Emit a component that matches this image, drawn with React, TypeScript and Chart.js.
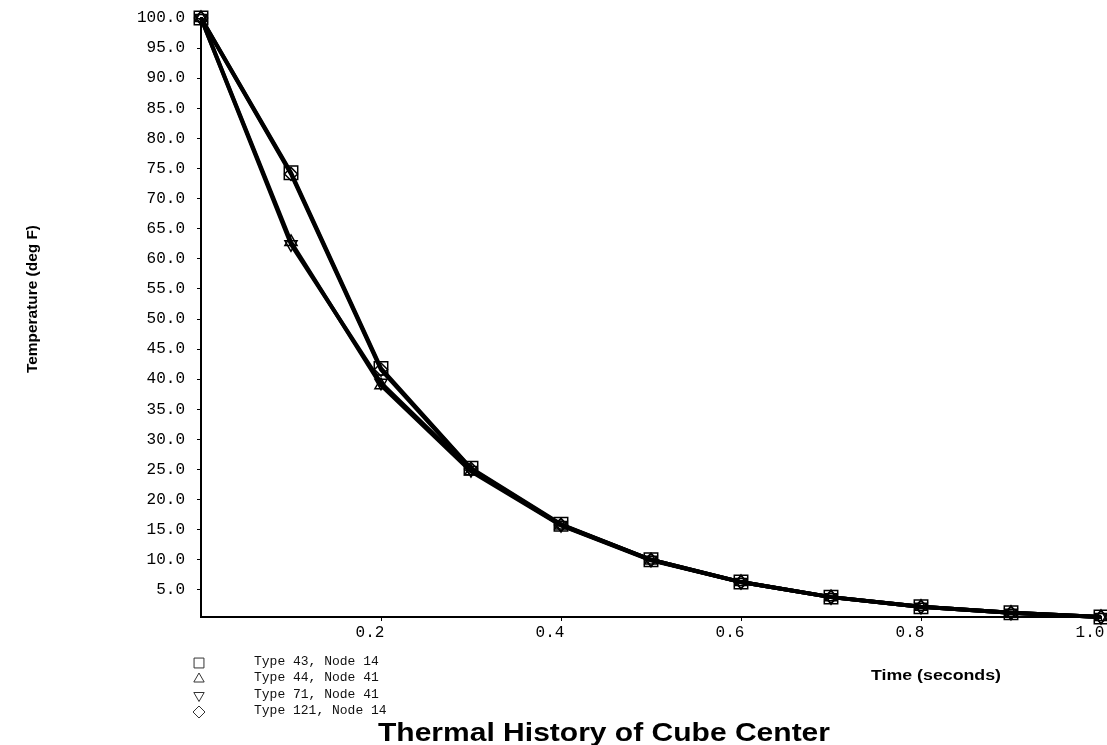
import React, { useEffect, useRef } from 'react';
import { Chart, registerables } from 'chart.js';
import { drawPoint } from 'chart.js/helpers';

Chart.register(...registerables);

// Sample times (s) and centre temperatures (deg F) for each element formulation
const timeSeconds = [0, 0.1, 0.2, 0.3, 0.4, 0.5, 0.6, 0.7, 0.8, 0.9, 1.0];
const type43Node14 = [100, 74.3, 41.8, 25.2, 15.9, 10.0, 6.3, 3.8, 2.2, 1.2, 0.5];
const type44Node41 = [100, 62.8, 39.0, 24.7, 15.7, 9.9, 6.3, 3.8, 2.2, 1.2, 0.5];
const type71Node41 = [100, 62.4, 39.4, 24.9, 15.8, 10.0, 6.3, 3.8, 2.2, 1.2, 0.5];
const type121Node14 = [100, 74.1, 41.6, 25.1, 15.8, 10.0, 6.3, 3.8, 2.2, 1.2, 0.5];

const seriesNames = ['Type 43, Node 14', 'Type 44, Node 41', 'Type 71, Node 41', 'Type 121, Node 14'];

const xTickValues = [0.2, 0.4, 0.6, 0.8, 1.0];
const yTickValues = [5, 10, 15, 20, 25, 30, 35, 40, 45, 50, 55, 60, 65, 70, 75, 80, 85, 90, 95, 100];

const chartTitle = 'Thermal History of Cube Center';
const xAxisTitle = 'Time (seconds)';
const yAxisTitle = 'Temperature (deg F)';

const MONO = '"Liberation Mono", "Courier New", monospace';
const SANS = '"Liberation Sans", Arial, Helvetica, sans-serif';

// Draw text horizontally stretched to a given width (the plot's labels use a wide face)
function drawWideText(
  ctx: CanvasRenderingContext2D,
  text: string,
  x: number,
  y: number,
  width: number,
  rotate = 0
) {
  const w = ctx.measureText(text).width;
  ctx.save();
  ctx.translate(x, y);
  if (rotate) ctx.rotate(rotate);
  ctx.scale(width / w, 1);
  ctx.textAlign = 'center';
  ctx.fillText(text, 0, 0);
  ctx.restore();
}

const legendRowsY = [662, 678, 694.5, 711];

const legendAndTitles = {
  id: 'legendAndTitles',
  afterDraw(chart: any) {
    const ctx: CanvasRenderingContext2D = chart.ctx;
    ctx.save();

    // Legend: marker glyph + monospace name per row
    chart.data.datasets.forEach((ds: any, i: number) => {
      const rowY = legendRowsY[i];
      ctx.strokeStyle = '#333';
      ctx.fillStyle = 'rgba(0,0,0,0)';
      ctx.lineWidth = 1;
      const r = ds.pointStyle === 'rect' ? 7 : 6;
      drawPoint(
        ctx,
        { pointStyle: ds.pointStyle, rotation: ds.pointRotation || 0, radius: r, borderWidth: 1 } as any,
        199,
        rowY + 1
      );
      ctx.fillStyle = '#111';
      ctx.font = `13px ${MONO}`;
      ctx.textAlign = 'left';
      ctx.textBaseline = 'middle';
      ctx.fillText(ds.label, 254, rowY);
    });

    ctx.fillStyle = '#000';
    ctx.textBaseline = 'alphabetic';

    // Axis titles
    ctx.font = `bold 14px ${SANS}`;
    drawWideText(ctx, xAxisTitle, 936, 680, 130);
    drawWideText(ctx, yAxisTitle, 37, 299, 148, -Math.PI / 2);

    // Chart title
    ctx.font = `bold 26px ${SANS}`;
    drawWideText(ctx, chartTitle, 604, 741, 452);

    ctx.restore();
  },
};

export default function App() {
  const canvasRef = useRef<HTMLCanvasElement | null>(null);

  useEffect(() => {
    document.body.style.margin = '0';
    const canvas = canvasRef.current;
    if (!canvas) return;

    const toPoints = (vals: number[]) => timeSeconds.map((t, i) => ({ x: t, y: vals[i] }));

    const common = {
      borderColor: '#000',
      borderWidth: 4,
      pointBorderWidth: 1.5,
      pointBorderColor: '#000',
      pointBackgroundColor: 'rgba(255,255,255,0)',
      tension: 0,
      fill: false,
      clip: false,
    };

    const chart = new Chart(canvas, {
      type: 'line',
      data: {
        datasets: [
          { ...common, label: seriesNames[0], data: toPoints(type43Node14), pointStyle: 'rect', pointRadius: 9.5 },
          { ...common, label: seriesNames[1], data: toPoints(type44Node41), pointStyle: 'triangle', pointRadius: 7 },
          {
            ...common,
            label: seriesNames[2],
            data: toPoints(type71Node41),
            pointStyle: 'triangle',
            pointRotation: 180,
            pointRadius: 7,
          },
          { ...common, label: seriesNames[3], data: toPoints(type121Node14), pointStyle: 'rectRot', pointRadius: 6.5 },
        ] as any,
      },
      options: {
        responsive: false,
        animation: false,
        devicePixelRatio: 1,
        events: [],
        layout: { autoPadding: false, padding: { left: 0, right: 6, top: 18, bottom: 0 } },
        plugins: {
          legend: { display: false },
          title: { display: false },
          tooltip: { enabled: false },
        },
        scales: {
          x: {
            type: 'linear',
            min: 0,
            max: 1,
            border: { display: true, color: '#000', width: 2 },
            grid: { display: true, drawOnChartArea: false, drawTicks: true, tickLength: 4, color: '#000', lineWidth: 1 },
            ticks: {
              color: '#000',
              font: { family: MONO, size: 16 },
              padding: 2,
              labelOffset: -11,
              maxRotation: 0,
              autoSkip: false,
              callback: (v: any) => Number(v).toFixed(1),
            },
            afterBuildTicks: (s: any) => {
              s.ticks = xTickValues.map((v) => ({ value: v }));
            },
            afterFit: (s: any) => {
              s.height = 128;
              s.paddingLeft = 0;
              s.paddingRight = 0;
            },
          },
          y: {
            type: 'linear',
            min: 0.5,
            max: 100,
            border: { display: true, color: '#000', width: 2 },
            grid: { display: true, drawOnChartArea: false, drawTicks: true, tickLength: 4, color: '#000', lineWidth: 1 },
            ticks: {
              color: '#000',
              font: { family: MONO, size: 16 },
              padding: 12,
              autoSkip: false,
              callback: (v: any) => Number(v).toFixed(1),
            },
            afterBuildTicks: (s: any) => {
              s.ticks = yTickValues.map((v) => ({ value: v }));
            },
            afterFit: (s: any) => {
              s.width = 201;
              s.paddingTop = 0;
              s.paddingBottom = 0;
            },
          },
        },
      } as any,
      plugins: [legendAndTitles],
    });

    return () => chart.destroy();
  }, []);

  return (
    <div style={{ position: 'absolute', left: 0, top: 0, width: 1107, height: 745, background: '#fff' }}>
      <canvas ref={canvasRef} width={1107} height={745} style={{ display: 'block' }} />
    </div>
  );
}
